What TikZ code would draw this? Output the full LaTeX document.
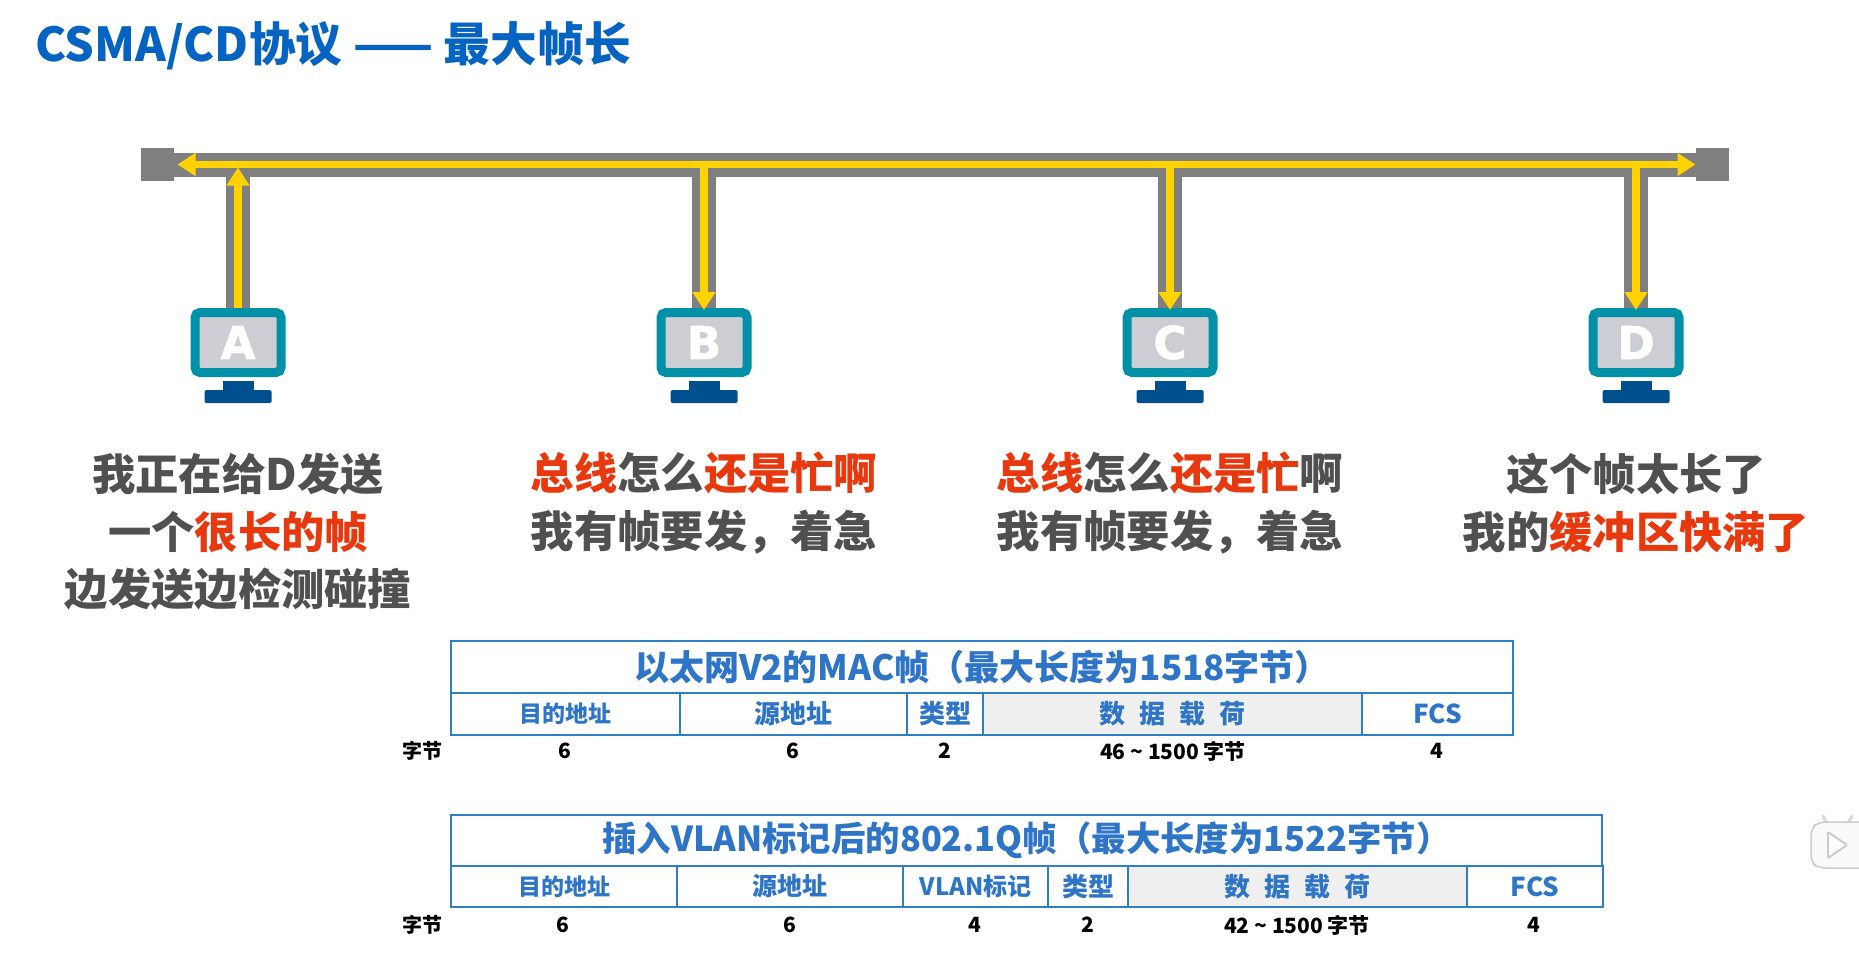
\documentclass[tikz,border=0pt]{standalone}
\usepackage{fontspec}
\setmainfont{Noto Sans CJK SC}
\newfontfamily\letterfont{DejaVu Sans}[BoldFeatures={FakeBold=1.6}]
\usetikzlibrary{arrows.meta}
\definecolor{busgray}{HTML}{7F7F7F}
\definecolor{sig}{HTML}{FFD200}
\definecolor{teal}{HTML}{0090A8}
\definecolor{screen}{HTML}{CDCED3}
\definecolor{navy}{HTML}{00508F}
\definecolor{titleblue}{HTML}{0563C1}
\definecolor{talk}{HTML}{505050}
\definecolor{hot}{HTML}{E8380D}
\definecolor{tblue}{HTML}{2E75C8}
\definecolor{tline}{HTML}{2E80C4}
\definecolor{payload}{HTML}{EFEFEF}
\newcommand{\hot}[1]{\textcolor{hot}{#1}}
\newcommand{\gapword}{数\hspace{0.55em}据\hspace{0.55em}载\hspace{0.55em}荷}
\tikzset{
  x=1pt,y=-1pt,
  term/.style={fill=busgray,minimum size=33pt,inner sep=0pt,outer sep=0pt},
  wire/.style={draw=busgray,line width=24pt},
  flow/.style={draw=sig,line width=7.5pt},
  screenbox/.style={draw=teal,line width=9pt,fill=screen,rounded corners=5pt,minimum width=86pt,minimum height=60pt,inner sep=0pt,outer sep=4.5pt,text=white,font=\letterfont\fontsize{45}{45}\selectfont\bfseries},
  neck/.style={fill=navy,minimum width=31pt,minimum height=10pt,inner sep=0pt,outer sep=0pt},
  foot/.style={fill=navy,rounded corners=1.5pt,minimum width=67pt,minimum height=13pt,inner sep=0pt,outer sep=0pt},
  say/.style={align=center,text=talk,font=\fontsize{43.3}{57.5}\selectfont\bfseries,inner sep=0pt},
  cell/.style={draw=tline,line width=1.6pt,anchor=north west,inner sep=0pt,outer sep=0pt,text=tblue,font=\fontsize{26}{28}\selectfont\bfseries},
  small/.style={font=\fontsize{23}{25}\selectfont\bfseries},
  head/.style={cell,font=\fontsize{35}{38}\selectfont\bfseries},
  pay/.style={cell,fill=payload},
  num/.style={text=black,inner sep=0pt,font=\fontsize{21}{24}\selectfont\bfseries},
  unit/.style={num,font=\fontsize{20}{22}\selectfont\bfseries},
}
\begin{document}
\begin{tikzpicture}
\useasboundingbox (0,0) rectangle (1859,954);
\node[anchor=west,inner sep=0pt,text=titleblue,font=\fontsize{46.7}{50}\selectfont\bfseries] (title) at (35,46) {CSMA/CD协议 —— 最大帧长};

% bus
\node[term] (termL) at (157,164.5) {};
\node[term] (termR) at (1712,164.5) {};
\draw[wire] (termL) -- (termR);

% monitors
\foreach \n/\t/\cx in {A/A/238,B/B/704,C/C/1170,D/D/1636}{
  \node[screenbox] (mon\n) at (\cx,342.5) {\t};
  \node[neck] (neck\n) at (\cx,386) {};
  \node[foot] (foot\n) at (\cx,396.5) {};
  \coordinate (j\n) at (\cx,164.5);
  \draw[wire] (j\n) -- (mon\n.north);
}
% signal
\draw[flow,{Triangle[width=22pt,length=18pt]}-{Triangle[width=22pt,length=18pt]}] ([xshift=4pt]termL.east) -- (termR.west);
\draw[flow,-{Triangle[width=22pt,length=18pt]}] (monA.north) -- ([yshift=-3pt]jA);
\foreach \n in {B,C,D}
  \draw[flow,-{Triangle[width=22pt,length=18pt]}] (j\n) -- ([yshift=-2pt]mon\n.north);

% speech
\node[say] (sayA) at (238,532) {我正在给D发送\\一个\hot{很长的帧}\\边发送边检测碰撞};
\node[say] (sayB) at (704,503) {\hot{总线}怎么\hot{还是忙啊}\\我有帧要发，着急};
\node[say] (sayC) at (1170,503) {\hot{总线}怎么\hot{还是忙}啊\\我有帧要发，着急};
\node[say] (sayD) at (1636,503) {这个帧太长了\\我的\hot{缓冲区快满了}};

% table 1
\node[head,minimum width=1062pt,minimum height=52pt] (t1h) at (451,641) {以太网V2的MAC帧（最大长度为1518字节）};
\node[cell,small,minimum width=229pt,minimum height=42pt] (t1a) at (451,693) {目的地址};
\node[cell,minimum width=227pt,minimum height=42pt] (t1b) at (680,693) {源地址};
\node[cell,minimum width=76pt,minimum height=42pt] (t1c) at (907,693) {类型};
\node[pay,minimum width=379pt,minimum height=42pt] (t1d) at (983,693) {\gapword};
\node[cell,minimum width=151pt,minimum height=42pt] (t1e) at (1362,693) {FCS};
\node[unit] (t1u) at (422,751) {字节};
\node[num] (t1na) at (565,751) {6};
\node[num] (t1nb) at (793,751) {6};
\node[num] (t1nc) at (945,751) {2};
\node[num] (t1nd) at (1173,751) {46 \textasciitilde{} 1500 字节};
\node[num] (t1ne) at (1437,751) {4};

% table 2
\node[head,font=\fontsize{34.4}{38}\selectfont\bfseries,minimum width=1151pt,minimum height=51pt] (t2h) at (451,815) {插入VLAN标记后的802.1Q帧（最大长度为1522字节）};
\node[cell,small,minimum width=226pt,minimum height=41pt] (t2a) at (451,866) {目的地址};
\node[cell,font=\fontsize{25}{27}\selectfont\bfseries,minimum width=226pt,minimum height=41pt] (t2b) at (677,866) {源地址};
\node[cell,font=\fontsize{24}{26}\selectfont\bfseries,minimum width=145pt,minimum height=41pt] (t2c) at (903,866) {VLAN标记};
\node[cell,minimum width=80pt,minimum height=41pt] (t2d) at (1048,866) {类型};
\node[pay,minimum width=339pt,minimum height=41pt] (t2e) at (1128,866) {\gapword};
\node[cell,minimum width=136pt,minimum height=41pt] (t2f) at (1467,866) {FCS};
\node[unit] (t2u) at (422,925) {字节};
\node[num] (t2na) at (563,925) {6};
\node[num] (t2nb) at (790,925) {6};
\node[num] (t2nc) at (975,925) {4};
\node[num] (t2nd) at (1088,925) {2};
\node[num] (t2ne) at (1297,925) {42 \textasciitilde{} 1500 字节};
\node[num] (t2nf) at (1534,925) {4};

% watermark
\draw[white!85!black,line width=3pt,line cap=round] (1827,823) -- (1823,816) (1848,823) -- (1852,816);
\draw[white!80!black,line width=1.5pt,fill=white!98!black,rounded corners=7pt] (1859,822) -- (1818,822) -- (1811,829) -- (1811,862) -- (1818,868) -- (1859,868);
\draw[white!80!black,line width=2pt,rounded corners=1pt,fill=white] (1828,832) -- (1847,845) -- (1828,858) -- cycle;
\end{tikzpicture}
\end{document}
